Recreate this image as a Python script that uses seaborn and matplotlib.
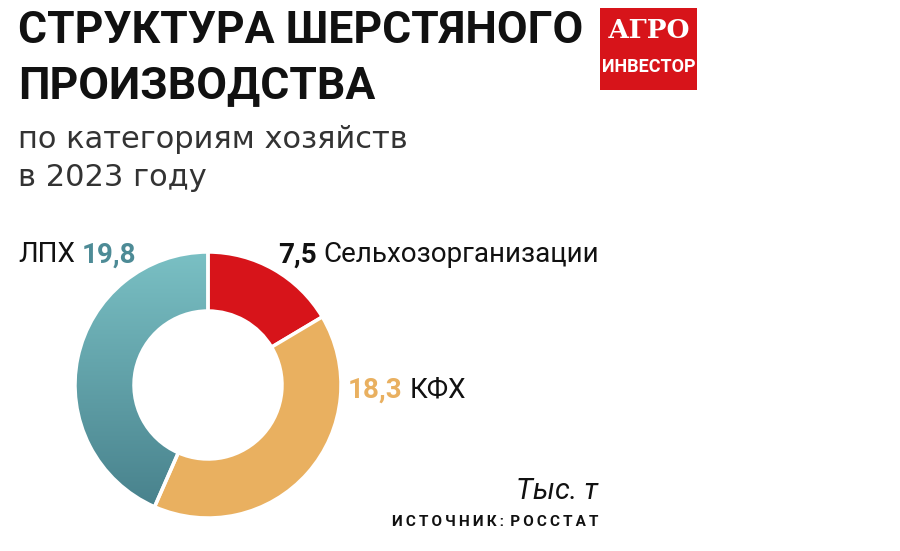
import matplotlib
matplotlib.use("Agg")
import matplotlib.pyplot as plt
import seaborn as sns
import numpy as np
from matplotlib.colors import LinearSegmentedColormap
from matplotlib.patches import Rectangle

# data
categories = ["Сельхозорганизации", "КФХ", "ЛПХ"]
values = [7.5, 18.3, 19.8]
value_labels = ["7,5", "18,3", "19,8"]
colors = ["#d7141a", "#e9b060", "#73b9be"]
teal_top, teal_bottom = "#7ac0c4", "#467f8a"

sns.set_style("white")
NARROW = ["Roboto", "DejaVu Sans"]
plt.rcParams["font.family"] = NARROW

W, H = 900, 551
fig = plt.figure(figsize=(9, 5.51), dpi=100)

def fx(x):
    return x / W

def fy(y):
    return 1 - y / H

# donut
cx, cy, r = 208, 385, 133
box = 150
ax = fig.add_axes([fx(cx - box), fy(cy + box), 2 * box / W, 2 * box / H])
wedges, _ = ax.pie(values, colors=colors, startangle=90, counterclock=False,
                   radius=1, wedgeprops=dict(width=59 / r, edgecolor="white", linewidth=2.5))

# gradient on the teal slice
cmap = LinearSegmentedColormap.from_list("teal", [teal_bottom, teal_top])
grad = np.linspace(0, 1, 256).reshape(-1, 1)
img = ax.imshow(grad, cmap=cmap, extent=(-1, 1, -1, 1), origin="lower", aspect="auto", zorder=0.5)
img.set_clip_path(wedges[2])
wedges[2].set_facecolor("none")
wedges[2].set_zorder(1)
lim = box / r
ax.set_xlim(-lim, lim)
ax.set_ylim(-lim, lim)
ax.set_aspect("equal")
ax.axis("off")

# titles
fig.text(fx(18), fy(31), "СТРУКТУРА ШЕРСТЯНОГО", fontsize=32, fontweight="bold",
         color="#111111", va="center", ha="left")
fig.text(fx(18), fy(86), "ПРОИЗВОДСТВА", fontsize=32, fontweight="bold",
         color="#111111", va="center", ha="left")
fig.text(fx(18), fy(140), "по категориям хозяйств", fontsize=22, family="DejaVu Sans",
         color="#333333", va="center", ha="left")
fig.text(fx(18), fy(178), "в 2023 году", fontsize=22, family="DejaVu Sans",
         color="#333333", va="center", ha="left")

# logo
fig.patches.append(Rectangle((fx(600), fy(90)), fx(97), 82 / H, transform=fig.transFigure,
                             facecolor="#d7141a", edgecolor="none"))
fig.text(fx(648.5), fy(30), "АГРО", fontsize=19, fontweight="bold", family="DejaVu Serif",
         color="white", ha="center", va="center")
fig.text(fx(648.5), fy(67), "ИНВЕСТОР", fontsize=13, fontweight="bold", family=NARROW,
         color="white", ha="center", va="center")

fig.canvas.draw()
renderer = fig.canvas.get_renderer()

def chain(x, y, parts, size=20):
    # place text parts one after another on one line
    for txt, color, weight in parts:
        t = fig.text(fx(x), fy(y), txt, fontsize=size, fontweight=weight, color=color,
                     ha="left", va="center")
        bb = t.get_window_extent(renderer)
        x += bb.width + 7

chain(18, 255, [("ЛПХ", "#111111", "normal"), (value_labels[2], "#4d8b96", "bold")])
chain(278, 255, [(value_labels[0], "#111111", "bold"), (categories[0], "#111111", "normal")])
chain(348, 390, [(value_labels[1], colors[1], "bold"), (categories[1], "#111111", "normal")])

fig.text(fx(598), fy(491), "Тыс. т", fontsize=21, style="italic", color="#111111",
         ha="right", va="center")
fig.text(fx(598), fy(522), "И С Т О Ч Н И К :  Р О С С Т А Т".replace(" ", "\u2009"), fontsize=11,
         fontweight="bold", color="#111111", ha="right", va="center")

fig.savefig("out.png", dpi=100)
